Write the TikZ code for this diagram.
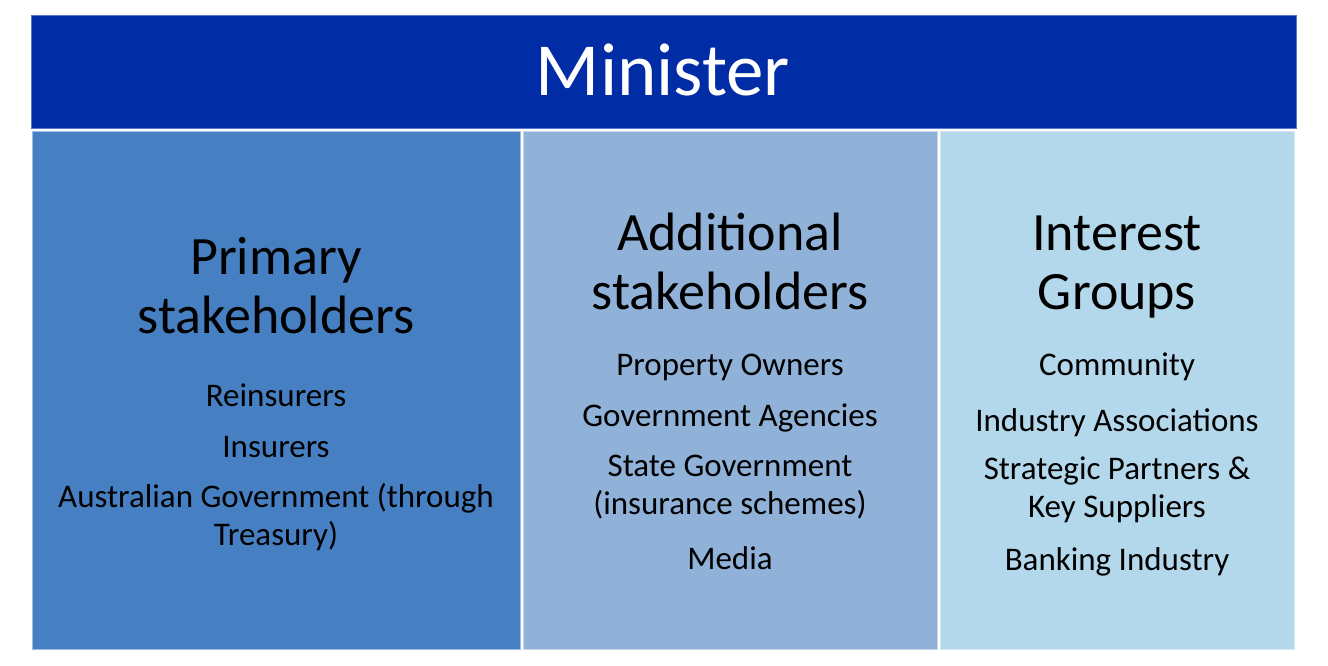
\documentclass[tikz,border=0pt]{standalone}
\usepackage{fontspec}
\setmainfont{Carlito}
\definecolor{mdark}{RGB}{0,44,166}
\definecolor{mdarkedge}{RGB}{90,120,200}
\definecolor{cone}{RGB}{70,128,194}
\definecolor{coneedge}{RGB}{160,190,225}
\definecolor{ctwo}{RGB}{144,178,217}
\definecolor{ctwoedge}{RGB}{200,215,235}
\definecolor{cthree}{RGB}{180,216,235}
\definecolor{cthreeedge}{RGB}{215,232,243}
\begin{document}
\begin{tikzpicture}[x=1pt,y=-1pt,
  panel/.style={line width=1pt, anchor=north west, inner sep=0pt, outer sep=0pt},
  bigtitle/.style={font=\fontsize{75}{90}\selectfont, text=white, anchor=base, inner sep=0pt},
  hdr/.style={font=\fontsize{54}{59}\selectfont, align=center, anchor=base, inner sep=0pt},
  item/.style={font=\fontsize{33}{37.5}\selectfont, align=center, anchor=base, inner sep=0pt},
]
\useasboundingbox (0,0) rectangle (1328,666);
\fill[white] (0,0) rectangle (1328,666);
\node[panel, draw=mdarkedge, fill=mdark, minimum width=1265pt, minimum height=113pt] (bar) at (31,16) {};
\node[panel, draw=coneedge, fill=cone, minimum width=488pt, minimum height=517pt] (colA) at (32,132) {};
\node[panel, draw=ctwoedge, fill=ctwo, minimum width=414pt, minimum height=517pt] (colB) at (523,132) {};
\node[panel, draw=cthreeedge, fill=cthree, minimum width=354pt, minimum height=517pt] (colC) at (940,132) {};

\node[bigtitle] (minister) at (663,96) {Minister};

\node[hdr] (hA) at (276,333) {Primary\\stakeholders};
\node[item] (a1) at (276,406) {Reinsurers};
\node[item] (a2) at (276,457) {Insurers};
\node[item] (a3) at (276,545) {Australian Government (through\\Treasury)};

\node[hdr] (hB) at (730,309) {Additional\\stakeholders};
\node[item] (b1) at (730,375) {Property Owners};
\node[item] (b2) at (730,426) {Government Agencies};
\node[item] (b3) at (730,514) {State Government\\(insurance schemes)};
\node[item] (b4) at (730,569) {Media};

\node[hdr] (hC) at (1117,309) {Interest\\Groups};
\node[item] (c1) at (1117,375) {Community};
\node[item] (c2) at (1117,431) {Industry Associations};
\node[item] (c3) at (1117,517) {Strategic Partners \&\\Key Suppliers};
\node[item] (c4) at (1117,570) {Banking Industry};
\end{tikzpicture}
\end{document}
